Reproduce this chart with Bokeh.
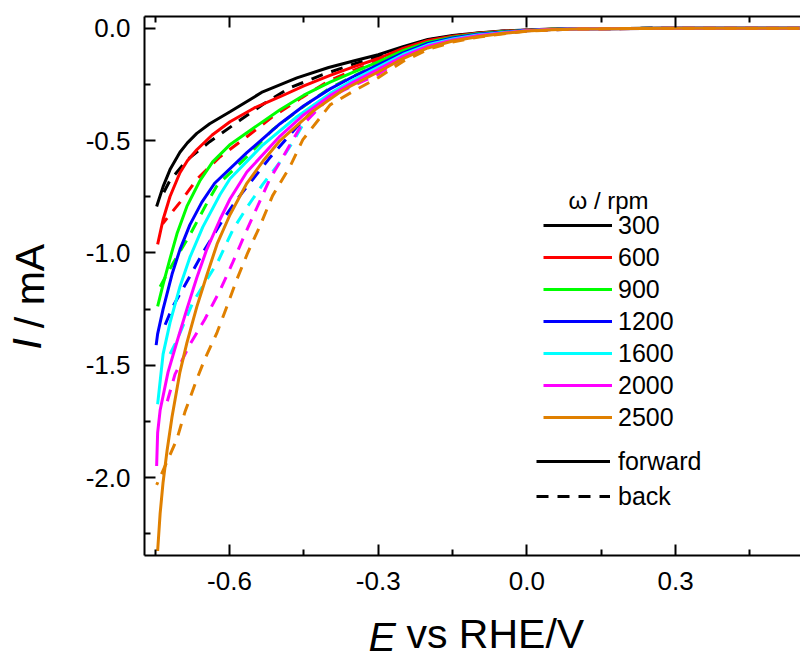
from bokeh.plotting import figure
from bokeh.models import (FixedTicker, PrintfTickFormatter, LinearAxis, Range1d,
                          Legend, LegendItem, Label, Title)
from bokeh.embed import file_html
from bokeh.resources import INLINE

# ---------------- data ----------------
rpm_labels = ["300", "600", "900", "1200", "1600", "2000", "2500"]

# forward scans (solid)
E_f300 = [0.55, 0.3, 0.1, 0.05, 0.0, -0.05, -0.1, -0.15, -0.2, -0.25, -0.3, -0.35, -0.4, -0.464, -0.533, -0.599, -0.64, -0.666, -0.685, -0.700, -0.720, -0.734, -0.747]
I_f300 = [0.0, 0.0, -0.002, -0.004, -0.008, -0.013, -0.021, -0.032, -0.050, -0.082, -0.118, -0.146, -0.175, -0.221, -0.283, -0.372, -0.425, -0.468, -0.51, -0.552, -0.629, -0.705, -0.793]

E_f600 = [0.55, 0.3, 0.1, 0.05, 0.0, -0.05, -0.1, -0.15, -0.2, -0.25, -0.3, -0.35, -0.397, -0.45, -0.498, -0.55, -0.599, -0.635, -0.666, -0.685, -0.700, -0.720, -0.734, -0.745]
I_f600 = [0.0, 0.0, -0.002, -0.005, -0.009, -0.014, -0.023, -0.036, -0.055, -0.09, -0.135, -0.172, -0.21, -0.257, -0.305, -0.355, -0.416, -0.475, -0.541, -0.59, -0.643, -0.749, -0.851, -0.962]

E_f900 = [0.55, 0.3, 0.1, 0.05, 0.0, -0.05, -0.1, -0.15, -0.2, -0.25, -0.3, -0.35, -0.397, -0.45, -0.498, -0.565, -0.600, -0.634, -0.660, -0.686, -0.706, -0.720, -0.734, -0.745]
I_f900 = [0.0, 0.0, -0.003, -0.005, -0.01, -0.016, -0.025, -0.04, -0.062, -0.10, -0.15, -0.195, -0.24, -0.298, -0.363, -0.465, -0.52, -0.595, -0.68, -0.793, -0.915, -1.025, -1.14, -1.238]

E_f1200 = [0.55, 0.3, 0.1, 0.05, 0.0, -0.05, -0.1, -0.15, -0.2, -0.25, -0.3, -0.35, -0.397, -0.45, -0.498, -0.565, -0.630, -0.656, -0.680, -0.700, -0.716, -0.734, -0.745, -0.748]
I_f1200 = [0.0, 0.0, -0.003, -0.006, -0.01, -0.018, -0.027, -0.044, -0.068, -0.11, -0.163, -0.215, -0.27, -0.345, -0.425, -0.554, -0.690, -0.775, -0.875, -0.985, -1.095, -1.25, -1.36, -1.41]

E_f1600 = [0.55, 0.3, 0.1, 0.05, 0.0, -0.05, -0.1, -0.15, -0.2, -0.25, -0.3, -0.35, -0.397, -0.464, -0.533, -0.599, -0.619, -0.654, -0.680, -0.700, -0.720, -0.734, -0.745]
I_f1600 = [0.0, 0.0, -0.004, -0.006, -0.011, -0.02, -0.03, -0.048, -0.074, -0.117, -0.173, -0.23, -0.29, -0.394, -0.52, -0.67, -0.74, -0.885, -1.02, -1.15, -1.31, -1.45, -1.673]

E_f2000 = [0.55, 0.3, 0.1, 0.05, 0.0, -0.05, -0.1, -0.15, -0.2, -0.25, -0.3, -0.35, -0.397, -0.45, -0.498, -0.565, -0.599, -0.619, -0.646, -0.666, -0.686, -0.706, -0.724, -0.740, -0.745, -0.747]
I_f2000 = [0.0, 0.0, -0.004, -0.006, -0.011, -0.022, -0.033, -0.052, -0.080, -0.125, -0.183, -0.24, -0.30, -0.385, -0.48, -0.64, -0.76, -0.85, -0.985, -1.11, -1.25, -1.395, -1.53, -1.70, -1.80, -1.948]

E_f2500 = [0.55, 0.3, 0.1, 0.05, 0.0, -0.05, -0.1, -0.15, -0.2, -0.25, -0.3, -0.371, -0.432, -0.498, -0.532, -0.565, -0.599, -0.625, -0.646, -0.666, -0.686, -0.700, -0.716, -0.726, -0.734, -0.740, -0.745]
I_f2500 = [0.0, 0.0, -0.004, -0.007, -0.013, -0.024, -0.038, -0.057, -0.088, -0.135, -0.195, -0.275, -0.37, -0.50, -0.59, -0.69, -0.83, -0.96, -1.10, -1.24, -1.40, -1.53, -1.73, -1.88, -2.02, -2.16, -2.326]

# back scans (dashed)
E_b300 = [0.55, 0.3, 0.1, 0.05, 0.0, -0.05, -0.1, -0.15, -0.2, -0.25, -0.3, -0.35, -0.412, -0.478, -0.53, -0.579, -0.640, -0.685, -0.720, -0.737]
I_b300 = [0.0, 0.0, -0.002, -0.005, -0.009, -0.014, -0.022, -0.035, -0.053, -0.088, -0.127, -0.16, -0.207, -0.265, -0.335, -0.41, -0.505, -0.585, -0.677, -0.749]

E_b600 = [0.55, 0.3, 0.1, 0.05, 0.0, -0.05, -0.1, -0.15, -0.2, -0.25, -0.3, -0.35, -0.4, -0.455, -0.513, -0.565, -0.619, -0.665, -0.700, -0.735]
I_b600 = [0.0, 0.0, -0.003, -0.005, -0.01, -0.015, -0.025, -0.039, -0.06, -0.097, -0.145, -0.188, -0.235, -0.31, -0.394, -0.483, -0.572, -0.67, -0.775, -0.87]

E_b900 = [0.55, 0.3, 0.1, 0.05, 0.0, -0.05, -0.1, -0.15, -0.2, -0.25, -0.3, -0.35, -0.4, -0.455, -0.513, -0.565, -0.625, -0.646, -0.680, -0.715, -0.740]
I_b900 = [0.0, 0.0, -0.003, -0.006, -0.011, -0.017, -0.027, -0.043, -0.066, -0.107, -0.16, -0.213, -0.27, -0.355, -0.452, -0.572, -0.70, -0.78, -0.92, -1.05, -1.15]

E_b1200 = [0.55, 0.3, 0.1, 0.05, 0.0, -0.05, -0.1, -0.15, -0.2, -0.25, -0.3, -0.35, -0.4, -0.464, -0.52, -0.585, -0.613, -0.650, -0.680, -0.714, -0.730]
I_b1200 = [0.0, 0.0, -0.003, -0.006, -0.011, -0.019, -0.03, -0.047, -0.072, -0.117, -0.175, -0.235, -0.30, -0.439, -0.58, -0.762, -0.851, -0.985, -1.104, -1.237, -1.32]

E_b1600 = [0.55, 0.3, 0.1, 0.05, 0.0, -0.05, -0.1, -0.15, -0.2, -0.25, -0.3, -0.35, -0.412, -0.452, -0.472, -0.498, -0.533, -0.565, -0.593, -0.623, -0.674, -0.694, -0.710, -0.72]
I_b1600 = [0.0, 0.0, -0.004, -0.007, -0.012, -0.021, -0.033, -0.052, -0.078, -0.125, -0.19, -0.25, -0.319, -0.43, -0.505, -0.595, -0.695, -0.798, -0.896, -1.037, -1.220, -1.326, -1.406, -1.45]

E_b2000 = [0.55, 0.3, 0.1, 0.05, 0.0, -0.05, -0.1, -0.15, -0.2, -0.25, -0.3, -0.35, -0.397, -0.458, -0.492, -0.519, -0.545, -0.569, -0.593, -0.619, -0.650, -0.680, -0.710, -0.726]
I_b2000 = [0.0, 0.0, -0.004, -0.007, -0.012, -0.023, -0.036, -0.057, -0.085, -0.135, -0.205, -0.255, -0.305, -0.443, -0.572, -0.673, -0.800, -0.917, -1.040, -1.166, -1.296, -1.408, -1.54, -1.664]

E_b2500 = [0.55, 0.3, 0.1, 0.05, 0.0, -0.05, -0.1, -0.15, -0.2, -0.25, -0.3, -0.35, -0.397, -0.452, -0.478, -0.513, -0.539, -0.563, -0.585, -0.605, -0.625, -0.650, -0.666, -0.690, -0.706, -0.747]
I_b2500 = [0.0, 0.0, -0.004, -0.008, -0.013, -0.026, -0.04, -0.062, -0.095, -0.148, -0.22, -0.28, -0.341, -0.496, -0.616, -0.745, -0.882, -0.998, -1.117, -1.237, -1.353, -1.473, -1.562, -1.708, -1.828, -2.032]

E_forward = [E_f300, E_f600, E_f900, E_f1200, E_f1600, E_f2000, E_f2500]
I_forward = [I_f300, I_f600, I_f900, I_f1200, I_f1600, I_f2000, I_f2500]
E_back = [E_b300, E_b600, E_b900, E_b1200, E_b1600, E_b2000, E_b2500]
I_back = [I_b300, I_b600, I_b900, I_b1200, I_b1600, I_b2000, I_b2500]

x_major = [-0.6, -0.3, 0.0, 0.3]
x_minor = [-0.75, -0.45, -0.15, 0.15, 0.45]
y_major = [0.0, -0.5, -1.0, -1.5, -2.0]
y_minor = [-0.25, -0.75, -1.25, -1.75, -2.25]

# ---------------- styles ----------------
colors = ["#000000", "#FF0000", "#00FF00", "#0000FF", "#00FFFF", "#FF00FF", "#E08000"]
FONT = "Liberation Sans"
DASH = "12 9"
NBSP = "\u00a0"

p = figure(width=800, height=659, output_backend="svg", toolbar_location=None,
           x_range=Range1d(-0.7715, 0.552), y_range=Range1d(-2.346, 0.052),
           min_border_left=144, min_border_right=0, min_border_top=16, min_border_bottom=102,
           x_axis_location=None, y_axis_location=None)
p.outline_line_color = None
p.grid.visible = False
p.background_fill_color = "white"
p.border_fill_color = "white"


def style_axis(ax, standoff=14):
    ax.axis_line_width = 2
    ax.axis_line_color = "black"
    ax.major_tick_in = 11
    ax.major_tick_out = 0
    ax.minor_tick_in = 6
    ax.minor_tick_out = 0
    ax.major_tick_line_width = 2
    ax.minor_tick_line_width = 2
    ax.major_tick_line_color = "black"
    ax.minor_tick_line_color = "black"
    ax.major_label_text_font = FONT
    ax.major_label_text_font_size = "26px"
    ax.major_label_text_color = "black"
    ax.major_label_standoff = standoff
    ax.axis_label_text_font = FONT
    ax.axis_label_text_font_size = "41px"
    ax.axis_label_text_font_style = "normal"
    ax.axis_label_text_color = "black"


xb = LinearAxis(ticker=FixedTicker(ticks=x_major, minor_ticks=x_minor),
                formatter=PrintfTickFormatter(format="%.1f"),
                axis_label=NBSP * 4 + "vs RHE/V")
style_axis(xb, 16)
xb.axis_label_standoff = 18
p.add_layout(xb, "below")

xt = LinearAxis(ticker=FixedTicker(ticks=x_major, minor_ticks=x_minor),
                major_label_overrides={v: "" for v in x_major})
style_axis(xt, 0)
xt.major_label_text_font_size = "1px"
p.add_layout(xt, "above")

yl = LinearAxis(ticker=FixedTicker(ticks=y_major, minor_ticks=y_minor),
                formatter=PrintfTickFormatter(format="%.1f"),
                axis_label="/ mA")
style_axis(yl, 14)
yl.axis_label_standoff = 30
p.add_layout(yl, "left")

# italic "I" of the y title (side-panel title pulled onto the axis-label line)
p.add_layout(Title(text="I", align="left", offset=206, vertical_align="bottom", standoff=-92,
                   text_font=FONT, text_font_size="41px", text_font_style="italic",
                   text_color="black"), "left")
# italic "E" of the x title
p.add_layout(Title(text="E", align="left", offset=224, vertical_align="top", standoff=-92,
                   text_font=FONT, text_font_size="41px", text_font_style="italic",
                   text_color="black"), "below")

fwd_renderers = []
back_renderers = []
for k in range(len(rpm_labels)):
    rf = p.line(E_forward[k], I_forward[k], line_color=colors[k], line_width=3)
    rb = p.line(E_back[k], I_back[k], line_color=colors[k], line_width=3, line_dash=DASH)
    fwd_renderers.append(rf)
    back_renderers.append(rb)

leg1 = Legend(items=[LegendItem(label=rpm_labels[k], renderers=[fwd_renderers[k]])
                     for k in range(len(rpm_labels))],
              location=(399, 123), orientation="vertical", padding=0, margin=0,
              spacing=2, glyph_width=69, glyph_height=30, label_height=30,
              label_standoff=6, label_text_font=FONT, label_text_font_size="25px",
              label_text_color="black",
              background_fill_alpha=0, border_line_alpha=0)
p.add_layout(leg1)

leg2 = Legend(items=[LegendItem(label="forward", renderers=[fwd_renderers[0]]),
                     LegendItem(label="back", renderers=[back_renderers[0]])],
              location=(392, 44), orientation="vertical", padding=0, margin=0,
              spacing=5, glyph_width=74, glyph_height=30, label_height=30,
              label_standoff=8, label_text_font=FONT, label_text_font_size="25px",
              label_text_color="black",
              background_fill_alpha=0, border_line_alpha=0)
p.add_layout(leg2)

p.add_layout(Label(x=424, y=355, x_units="screen", y_units="screen", text="ω / rpm",
                   text_font=FONT, text_font_size="24px", text_baseline="middle",
                   text_color="black"))

open("out.html", "w").write(file_html(p, INLINE))
